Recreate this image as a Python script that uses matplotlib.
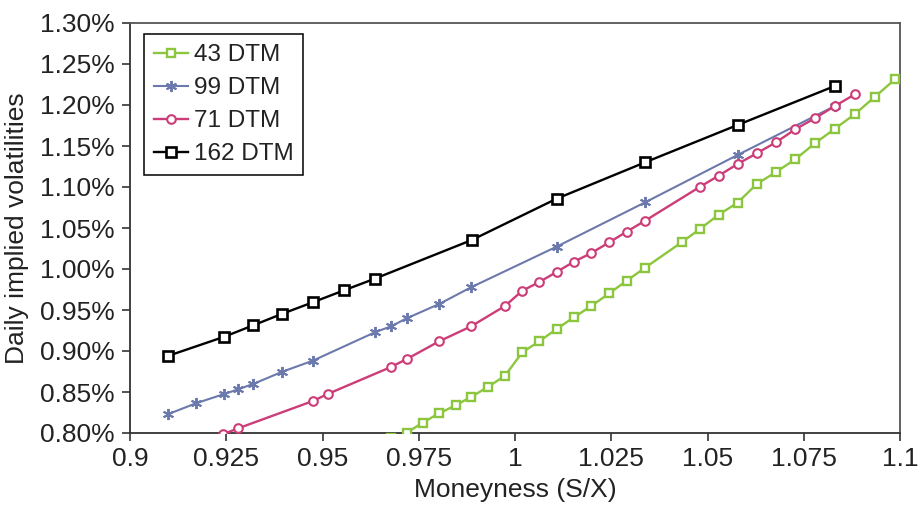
import matplotlib
matplotlib.use("Agg")
import matplotlib.pyplot as plt
from matplotlib.ticker import FuncFormatter

plt.rcParams['font.family'] = ['Liberation Sans', 'DejaVu Sans']

# 43 DTM
x43 = [0.9678, 0.9719, 0.9760, 0.9803, 0.9846, 0.9887, 0.9931, 0.9974, 1.0019, 1.0063,
       1.0108, 1.0153, 1.0197, 1.0245, 1.0290, 1.0338, 1.0433, 1.0481, 1.0529, 1.0578,
       1.0628, 1.0678, 1.0728, 1.0779, 1.0831, 1.0883, 1.0935, 1.0987]
y43 = [0.7935, 0.8004, 0.8126, 0.8240, 0.8338, 0.8443, 0.8565, 0.8699, 0.8984, 0.9118,
       0.9268, 0.9411, 0.9545, 0.9704, 0.9857, 1.0016, 1.0326, 1.0491, 1.0662, 1.0808,
       1.1037, 1.1183, 1.1338, 1.1533, 1.1711, 1.1890, 1.2101, 1.2313]

# 99 DTM
x99 = [0.9098, 0.9171, 0.9245, 0.9281, 0.9320, 0.9396, 0.9475, 0.9636, 0.9678, 0.9719,
       0.9803, 0.9886, 1.0108, 1.0338, 1.0578, 1.0831]
y99 = [0.8228, 0.8362, 0.8476, 0.8533, 0.8598, 0.8748, 0.8882, 0.9228, 0.9301, 0.9399,
       0.9573, 0.9777, 1.0272, 1.0813, 1.1390, 1.1988]

# 71 DTM
x71 = [0.9241, 0.9281, 0.9475, 0.9515, 0.9678, 0.9719, 0.9803, 0.9886, 0.9974, 1.0019,
       1.0063, 1.0108, 1.0153, 1.0197, 1.0245, 1.0290, 1.0338, 1.0481, 1.0529, 1.0578,
       1.0628, 1.0678, 1.0728, 1.0779, 1.0831, 1.0883]
y71 = [0.7984, 0.8057, 0.8390, 0.8479, 0.8805, 0.8902, 0.9118, 0.9301, 0.9549, 0.9735,
       0.9841, 0.9963, 1.0089, 1.0191, 1.0326, 1.0455, 1.0589, 1.1004, 1.1138, 1.1280,
       1.1411, 1.1545, 1.1704, 1.1838, 1.1988, 1.2131]

# 162 DTM
x162 = [0.9098, 0.9245, 0.9320, 0.9396, 0.9475, 0.9556, 0.9636, 0.9888, 1.0108, 1.0338,
        1.0578, 1.0831]
y162 = [0.8939, 0.9174, 0.9313, 0.9455, 0.9594, 0.9740, 0.9882, 1.0354, 1.0857, 1.1301,
        1.1756, 1.2232]

xticks = [0.9, 0.925, 0.95, 0.975, 1.0, 1.025, 1.05, 1.075, 1.1]
xticklabels = ['0.9', '0.925', '0.95', '0.975', '1', '1.025', '1.05', '1.075', '1.1']
yticks = [0.80, 0.85, 0.90, 0.95, 1.00, 1.05, 1.10, 1.15, 1.20, 1.25, 1.30]

fig = plt.figure(figsize=(9.21, 5.05), dpi=100)
ax = fig.add_axes([130/921, 72/505, 770/921, 410/505])

green = '#8cc63e'
blue = '#6c79ad'
pink = '#cc3d78'

ax.plot(x43, y43, color=green, lw=1.7, marker='s', ms=5.6, mfc='white', mec=green,
        mew=1.7, label='43 DTM', zorder=3)
ax.plot(x99, y99, color=blue, lw=1.5, marker=(6, 2, 0), ms=8, mec=blue, mew=1.4,
        label='99 DTM', zorder=3)
ax.plot(x71, y71, color=pink, lw=1.7, marker='o', ms=6.2, mfc='white', mec=pink,
        mew=1.5, label='71 DTM', zorder=3)
ax.plot(x162, y162, color='black', lw=1.7, marker='s', ms=7.6, mfc='white', mec='black',
        mew=1.9, label='162 DTM', zorder=4)

ax.set_xlim(0.9, 1.1)
ax.set_ylim(0.80, 1.30)
ax.set_xticks(xticks)
ax.set_xticklabels(xticklabels)
ax.set_yticks(yticks)
ax.yaxis.set_major_formatter(FuncFormatter(lambda v, p: f'{v:.2f}%'))
ax.tick_params(axis='both', direction='out', length=6, width=1.2, labelsize=19,
               color='#333333', labelcolor='#222222', pad=4)
ax.tick_params(axis='y', pad=5)
for s in ax.spines.values():
    s.set_color('#555555')
    s.set_linewidth(1.3)
ax.spines['left'].set_color('#333333')
ax.spines['bottom'].set_color('#333333')

ax.set_xlabel('Moneyness (S/X)', fontsize=19, color='#222222', labelpad=5)
ax.set_ylabel('Daily implied volatilities', fontsize=19, color='#222222', labelpad=8)

leg = ax.legend(loc='upper left', bbox_to_anchor=(0.018, 0.972), fontsize=17.5,
                frameon=True, fancybox=False, edgecolor='black', framealpha=1,
                handlelength=1.4, handletextpad=0.25, borderpad=0.4, labelspacing=0.45,
                borderaxespad=0)
leg.get_frame().set_linewidth(1.1)
for t in leg.get_texts():
    t.set_color('#222222')

fig.savefig('out.png', dpi=100)
